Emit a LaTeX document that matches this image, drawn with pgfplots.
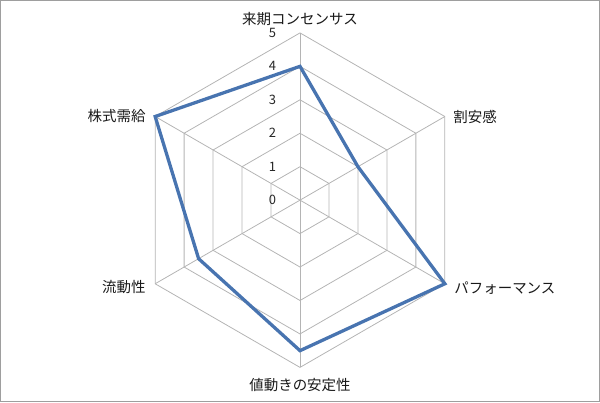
\documentclass[border=0pt]{standalone}
\usepackage{pgfplots}
\pgfplotsset{compat=1.18}
\usepgfplotslibrary{polar}
\usepackage{fontspec}
\setmainfont{Noto Sans CJK JP}
\definecolor{radarblue}{RGB}{72,116,176}
\definecolor{gridgray}{RGB}{180,180,180}
\begin{document}
\begin{tikzpicture}
\begin{axis}[
  x=33.5pt, y=33.5pt,
  xmin=-8.9552, xmax=8.9552, ymin=-6.0299, ymax=5.9701,
  xtick=\empty, ytick=\empty,
  axis line style={draw=black!38, line width=0.9pt},
  clip=false,
]
% hexagonal grid
\pgfplotsinvokeforeach{1,2,3,4,5}{
  \addplot[gridgray, line width=0.8pt, data cs=polar, mark=none]
    coordinates {(90,#1) (30,#1) (-30,#1) (-90,#1) (210,#1) (150,#1) (90,#1)};
}
% spokes
\pgfplotsinvokeforeach{90,30,-30,-90,210,150}{
  \addplot[gridgray, line width=0.8pt, data cs=polar, mark=none]
    coordinates {(#1,0) (#1,5)};
}
% data
\addplot[radarblue, line width=3.3pt, line join=miter, miter limit=4, data cs=polar, mark=none]
  coordinates {(90,4) (30,2) (-30,5) (-90,4.5) (210,3.5) (150,5) (90,4)} -- cycle;
% scale labels
\pgfplotsinvokeforeach{0,1,2,3,4,5}{
  \node[font=\fontsize{13}{13}\selectfont, text=black!85] at (axis cs:-0.82,#1) {#1};
}
% category labels
\begin{scope}[every node/.style={font=\fontsize{14.5}{14.5}\selectfont, text=black!90}]
\node[anchor=center] at (axis cs:0,5.42) {来期コンセンサス};
\node[anchor=west, xshift=5pt, yshift=-0.5pt] at (axis cs:4.330,2.5) {割安感};
\node[anchor=west, xshift=6pt, yshift=-4pt] at (axis cs:4.330,-2.5) {パフォーマンス};
\node[anchor=center] at (axis cs:0,-5.52) {値動きの安定性};
\node[anchor=east, xshift=-6pt, yshift=-3.5pt] at (axis cs:-4.330,-2.5) {流動性};
\node[anchor=east, xshift=-6pt, yshift=1pt] at (axis cs:-4.330,2.5) {株式需給};
\end{scope}
\end{axis}
\end{tikzpicture}
\end{document}
